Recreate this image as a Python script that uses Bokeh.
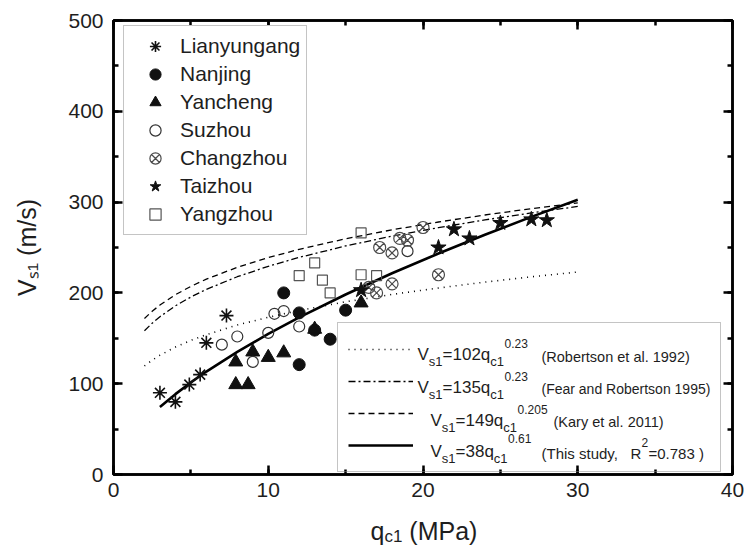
from bokeh.plotting import figure
from bokeh.layouts import column
from bokeh.models import (Range1d, SingleIntervalTicker, LinearAxis, Legend,
                          LegendItem, Label, CustomJSTickFormatter)
from bokeh.embed import file_html
from bokeh.resources import INLINE

# ---------------- data ----------------
lian_q = [3.0, 4.0, 4.9, 5.6, 6.0, 7.3]
lian_v = [90, 80, 99, 110, 145, 175]

nanj_q = [11.0, 12.0, 12.0, 13.0, 14.0, 15.0]
nanj_v = [200, 178, 121, 159, 149, 181]

yanc_q = [7.9, 7.9, 8.7, 9.0, 10.0, 11.0, 13.0, 16.0]
yanc_v = [124, 99, 99, 135, 129, 134, 160, 189]

suz_q = [7.0, 8.0, 9.0, 10.0, 10.4, 11.0, 12.0, 19.0]
suz_v = [143, 152, 124, 156, 177, 180, 163, 246]

chz_q = [20.0, 18.5, 19.0, 17.2, 18.0, 21.0, 18.0, 17.0, 16.5]
chz_v = [272, 260, 258, 250, 244, 220, 210, 200, 206]

tai_q = [16.0, 21.0, 22.0, 23.0, 25.0, 27.0, 28.0]
tai_v = [203, 250, 270, 260, 277, 281, 280]

yz_q = [16.0, 13.0, 12.0, 13.5, 14.0, 16.0, 17.0]
yz_v = [266, 233, 219, 214, 200, 220, 219]

# correlation curves, values read at sample q positions
curve_q = [2, 2.5, 3, 4, 5, 6, 8, 10, 12, 15, 18, 21, 24, 27, 30]
robertson_v = [119.6, 125.9, 131.3, 140.3, 147.7, 154.0, 164.6, 173.2, 180.6,
               190.2, 198.3, 205.4, 211.9, 217.7, 223.0]
fear_v = [158.3, 166.7, 173.8, 185.7, 195.5, 203.9, 217.8, 229.3, 239.1,
          251.7, 262.5, 271.9, 280.4, 288.1, 295.2]
kary_v = [171.8, 179.8, 186.6, 198.0, 207.2, 215.1, 228.2, 238.9, 248.0,
          259.6, 269.5, 278.1, 285.8, 292.8, 299.2]
study_q = [3, 4, 5, 6, 8, 10, 12, 15, 18, 21, 24, 27, 30]
study_v = [74.3, 88.5, 101.4, 113.4, 135.1, 154.8, 173.0, 198.2, 221.6,
           243.4, 264.1, 283.7, 302.6]

site_names = ["Lianyungang", "Nanjing", "Yancheng", "Suzhou", "Changzhou",
              "Taizhou", "Yangzhou"]
x_ticks_interval = 10
y_ticks_interval = 100
y_title = "V\u209b\u2081 (m/s)"

# ---------------- layout constants (page pixels) ----------------
FONT = "Liberation Sans"
TXT = "#1e1e1e"
X0, X1, Y0, Y1 = 0, 40, 0, 500
MAIN_H = 508
BOTTOM_H = 38          # strip holding the x title
TOTAL_W = 748
FL, FR, FT, FB = 113.0, 732.0, 20.0, 474.0   # plot frame on the page

p = figure(width=TOTAL_W, height=MAIN_H, output_backend="svg",
           toolbar_location=None,
           x_range=Range1d(X0, X1), y_range=Range1d(Y0, Y1),
           min_border_left=int(FL), min_border_right=int(TOTAL_W - FR),
           min_border_top=int(FT), min_border_bottom=int(MAIN_H - FB))
p.xgrid.visible = False
p.ygrid.visible = False
p.outline_line_color = "black"
p.outline_line_width = 2.5
p.background_fill_color = "white"
p.border_fill_color = "white"

xt = SingleIntervalTicker(interval=x_ticks_interval, num_minor_ticks=2)
yt = SingleIntervalTicker(interval=y_ticks_interval, num_minor_ticks=2)
p.xaxis.ticker = xt
p.yaxis.ticker = yt


def style_axis(ax):
    ax.axis_line_color = "black"
    ax.axis_line_width = 2.5
    ax.major_tick_in = 9
    ax.major_tick_out = 0
    ax.minor_tick_in = 5
    ax.minor_tick_out = 0
    ax.major_tick_line_width = 2.5
    ax.minor_tick_line_width = 2.5
    ax.major_tick_line_color = "black"
    ax.minor_tick_line_color = "black"
    ax.major_label_text_font = FONT
    ax.major_label_text_font_size = "21px"
    ax.major_label_text_color = TXT


for ax in p.xaxis:
    style_axis(ax)
    ax.major_label_standoff = 8
for ax in p.yaxis:
    style_axis(ax)
    ax.major_label_standoff = 10
    ax.axis_label = y_title
    ax.axis_label_text_font = FONT
    ax.axis_label_text_font_size = "25px"
    ax.axis_label_text_font_style = "normal"
    ax.axis_label_text_color = TXT
    ax.axis_label_standoff = 24

blank = CustomJSTickFormatter(code="return ''")
top = LinearAxis(ticker=xt, formatter=blank)
right = LinearAxis(ticker=yt, formatter=blank)
for ax in (top, right):
    style_axis(ax)
    ax.major_label_standoff = 0
    ax.major_label_text_font_size = "1px"
p.add_layout(top, "above")
p.add_layout(right, "right")

# ---------------- curves ----------------
r_rob = p.line(curve_q, robertson_v, line_color="black", line_width=1.6,
               line_dash="1 5")
r_fear = p.line(curve_q, fear_v, line_color="black", line_width=1.3,
                line_dash="7 3 2 3")
r_kary = p.line(curve_q, kary_v, line_color="black", line_width=1.3,
                line_dash="6 4")
r_study = p.line(study_q, study_v, line_color="black", line_width=2.6)

# ---------------- scatter ----------------
r_lian = p.scatter(lian_q, lian_v, marker="asterisk", size=14,
                   line_color="#111111", line_width=1.6)
r_nanj = p.scatter(nanj_q, nanj_v, marker="circle", size=12,
                   fill_color="#111111", line_color="#111111")
r_yanc = p.scatter(yanc_q, yanc_v, marker="triangle", size=14,
                   fill_color="#111111", line_color="#111111")
r_suz = p.scatter(suz_q, suz_v, marker="circle", size=11,
                  fill_color=None, line_color="#333333", line_width=1.2)
r_chz = p.scatter(chz_q, chz_v, marker="circle_x", size=12,
                  fill_color=None, line_color="#4a4a4a", line_width=1.2)
r_tai = p.scatter(tai_q, tai_v, marker="star", size=16,
                  fill_color="#111111", line_color="#111111")
r_yz = p.scatter(yz_q, yz_v, marker="square", size=10,
                 fill_color=None, line_color="#555555", line_width=1.2)

site_renderers = [r_lian, r_nanj, r_yanc, r_suz, r_chz, r_tai, r_yz]
leg1 = Legend(items=[LegendItem(label=n, renderers=[r])
                     for n, r in zip(site_names, site_renderers)],
              location=(10, 239), margin=0, padding=6, spacing=0,
              glyph_width=50, glyph_height=28, label_height=28,
              label_standoff=0, label_text_font=FONT,
              label_text_font_size="21px", label_text_color=TXT,
              border_line_color="#8a8a8a", border_line_width=1.5,
              background_fill_color="white", background_fill_alpha=1.0)
p.add_layout(leg1)

# formula legend: transparent box so the formula texts stay visible
leg2 = Legend(items=[LegendItem(label=" ", renderers=[r])
                     for r in (r_rob, r_fear, r_kary, r_study)],
              location=(224, 2), margin=0, padding=10, spacing=0,
              glyph_width=65, glyph_height=32, label_height=32,
              label_width=297, label_standoff=0, label_text_font=FONT,
              label_text_font_size="13px",
              border_line_color="#8a8a8a", border_line_width=1.5,
              background_fill_alpha=0.0)
p.add_layout(leg2)

# ---------------- text helpers ----------------
EM = {'V': .667, 's': .5, '1': .556, '=': .584, '0': .556, '2': .556,
      '3': .556, '4': .556, '5': .556, '8': .556, '9': .556, 'q': .556,
      'c': .5, '.': .278, ' ': .278, '6': .556}


def tw(s, size):
    return sum(EM.get(ch, .556) for ch in s) * size


def put_main(text, px, py, size):
    """text inside the plot frame, page pixel position -> data units"""
    x = X0 + (px - FL) / (FR - FL) * (X1 - X0)
    y = Y0 + (FB - py) / (FB - FT) * (Y1 - Y0)
    p.add_layout(Label(x=x, y=y, text=text, text_font=FONT,
                       text_font_size=f"{size}px", text_color=TXT,
                       text_align="left", text_baseline="alphabetic",
                       level="overlay"))


def formula(px, base, coef, expo, exp_dy=-11):
    x = px
    put_main("V", x, base, 17); x += tw("V", 17)
    put_main("s1", x, base + 7, 13); x += tw("s1", 13)
    s = "=" + coef + "q"
    put_main(s, x, base, 17); x += tw(s, 17)
    put_main("c1", x, base + 7, 13); x += tw("c1", 13)
    put_main(expo, x + 0.5, base + exp_dy, 12)


formula(417, 354, "102", "0.23")
formula(417, 387, "135", "0.23")
formula(430, 420, "149", "0.205")
formula(430, 451, "38", "0.61", exp_dy=-13)

put_main("(Robertson et al. 1992)", 541, 356, 14.5)
put_main("(Fear and Robertson 1995)", 541, 388, 14)
put_main("(Kary et al. 2011)", 553, 421.5, 14.5)
put_main("(This study,", 541, 453, 15)
put_main("R", 630, 453, 15)
put_main("2", 641, 442, 12)
put_main("=0.783 )", 648, 453, 15)

# ---------------- x title strip (below the plot) ----------------
# the column aligns this strip's frame with the plot frame (FL..FR),
# so its x range is expressed in page pixels of that span
xs = figure(width=TOTAL_W, height=BOTTOM_H, output_backend="svg",
            toolbar_location=None, x_range=Range1d(FL, FR),
            y_range=Range1d(0, BOTTOM_H), x_axis_type=None, y_axis_type=None,
            min_border=0)
xs.xgrid.visible = False
xs.ygrid.visible = False
xs.outline_line_color = None
xs.background_fill_color = "white"
xs.border_fill_color = "white"


def put_strip(text, x, y, size):
    xs.add_layout(Label(x=x, y=y, text=text, text_font=FONT,
                        text_font_size=f"{size}px", text_color=TXT,
                        text_align="left", text_baseline="alphabetic"))


bq = 16   # baseline height above the strip's bottom
qx = 370
put_strip("q", qx, bq, 25)
put_strip("c1", qx + tw("q", 25), bq - 6, 17)
put_strip("(MPa)", qx + tw("q", 25) + tw("c1", 17) + tw(" ", 25), bq, 25)

layout = column(p, xs, spacing=0)

open("out.html", "w").write(file_html(layout, INLINE))
